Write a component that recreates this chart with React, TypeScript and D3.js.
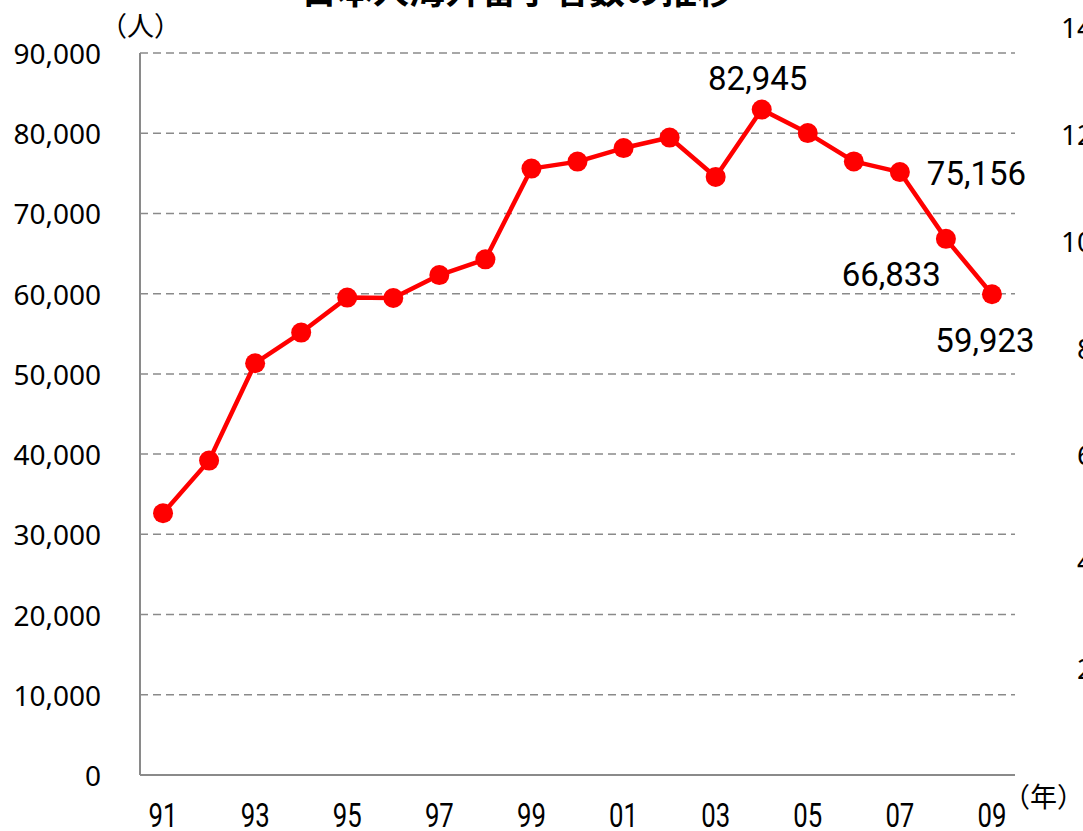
import React from "react";
import * as d3 from "d3";

const years = ["91","92","93","94","95","96","97","98","99","00","01","02","03","04","05","06","07","08","09"];
const students = [32630, 39190, 51330, 55150, 59510, 59460, 62320, 64280, 75590, 76460, 78150, 79460, 74550, 82945, 80020, 76490, 75156, 66833, 59923];
const leftTicks = [0, 10000, 20000, 30000, 40000, 50000, 60000, 70000, 80000, 90000];
const rightTicks = [20, 40, 60, 80, 100, 120, 140];
const xTickYears = ["91","93","95","97","99","01","03","05","07","09"];
const title = "日本人海外留学者数の推移";
const labeledYears = ["04", "07", "08", "09"];

const W = 1083, H = 831;
const L = 140, R = 1015, T = 53, B = 775;

export default function App() {
  const x = d3.scaleBand().domain(years).range([L, R]);
  const y = d3.scaleLinear().domain([0, 90000]).range([B, T]);
  const y2 = d3.scaleLinear().domain([0, 140]).range([B, 27]);
  const cx = (yr: string) => (x(yr) as number) + x.bandwidth() / 2;
  const data = years.map((yr, i) => ({ yr, v: students[i] }));
  const line = d3.line<{ yr: string; v: number }>().x(d => cx(d.yr)).y(d => y(d.v));
  const fmt = d3.format(",");
  const labelStyle: Record<string, { dx: number; dy: number; anchor: string }> = {
    "04": { dx: -4, dy: -20, anchor: "middle" },
    "07": { dx: 27, dy: 13, anchor: "start" },
    "08": { dx: -5, dy: 47, anchor: "end" },
    "09": { dx: -7, dy: 58, anchor: "middle" },
  };
  const grey = "#8a8a8a";
  return (
    <svg width={W} height={H} style={{ position: "absolute", left: 0, top: 0, display: "block", background: "#fff" }}>
      <text x={517} y={4} textAnchor="middle" fontFamily="'Noto Sans CJK JP'" fontWeight="bold" fontSize={36} fill="#000">{title}</text>
      <text x={100} y={24} dominantBaseline="central" fontFamily="'Noto Sans CJK JP'" fontSize={27} fill="#000">（人）</text>
      {leftTicks.filter(t => t > 0).map(t => (
        <line key={"g" + t} x1={L} x2={R} y1={y(t)} y2={y(t)} stroke={grey} strokeWidth={1.5} strokeDasharray="8,5" />
      ))}
      <line x1={L} x2={L} y1={T} y2={B} stroke={grey} strokeWidth={2} />
      <line x1={L} x2={R} y1={B} y2={B} stroke={grey} strokeWidth={2} />
      {leftTicks.map(t => (
        <text key={"l" + t} x={101} y={y(t)} textAnchor="end" dominantBaseline="central" fontFamily="'Noto Sans'" fontSize={28} fill="#000">{fmt(t)}</text>
      ))}
      {rightTicks.map(t => (
        <text key={"r" + t} x={1109} y={y2(t)} textAnchor="end" dominantBaseline="central" fontFamily="'Noto Sans'" fontSize={28} fill="#000">{t}</text>
      ))}
      {xTickYears.map(yr => (
        <text key={"x" + yr} transform={`translate(${cx(yr)},827) scale(0.78,1)`} textAnchor="middle" fontFamily="Roboto" fontSize={33} fill="#000">{yr}</text>
      ))}
      <text x={1003} y={795} dominantBaseline="central" fontFamily="'Noto Sans CJK JP'" fontSize={27} fill="#000">（年）</text>
      <path d={line(data) || ""} fill="none" stroke="#ff0000" strokeWidth={4.5} strokeLinejoin="round" />
      {data.map(d => (
        <circle key={"c" + d.yr} cx={cx(d.yr)} cy={y(d.v)} r={10} fill="#ff0000" />
      ))}
      {data.filter(d => labeledYears.includes(d.yr)).map(d => {
        const s = labelStyle[d.yr];
        return (
          <text key={"t" + d.yr} x={cx(d.yr) + s.dx} y={y(d.v) + s.dy} textAnchor={s.anchor} fontFamily="Roboto" fontSize={33} fill="#000">{fmt(d.v)}</text>
        );
      })}
    </svg>
  );
}
